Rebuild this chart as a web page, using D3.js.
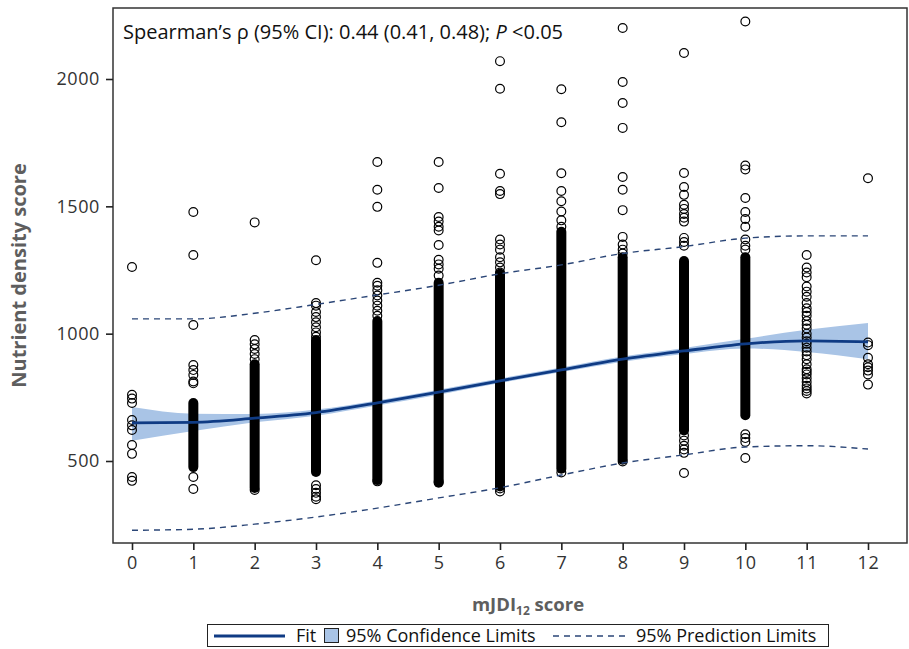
<!DOCTYPE html>
<html>
<head>
<meta charset="utf-8">
<script src="https://cdn.jsdelivr.net/npm/d3@7"></script>
<style>
  body { margin: 0; background: #fff; }
  svg { display: block; font-family: "Open Sans", "Noto Sans", sans-serif; }
</style>
</head>
<body>
<svg id="chart" width="909" height="649"></svg>
<script>
(function() {

  // mJDI12 score categories
  const scores = [0, 1, 2, 3, 4, 5, 6, 7, 8, 9, 10, 11, 12]

  // individual (visible) observations per score
  const points = [
    [1262, 760, 745, 728, 661, 640, 622, 563, 528, 437, 422],
    [1478, 1309, 1034, 877, 857, 838, 812, 805, 437, 390],
    [1437, 975, 958, 940, 920, 900, 386],
    [1288, 1120, 1110, 1085, 1065, 1045, 1025, 1005, 988, 405, 390, 375, 360, 350],
    [1674, 1565, 1498, 1278, 1200, 1188, 1170, 1150, 1130, 1110, 1090, 1070, 420],
    [1674, 1572, 1458, 1440, 1420, 1405, 1348, 1290, 1272, 1255, 1228, 418],
    [2070, 1962, 1628, 1560, 1548, 1370, 1350, 1330, 1300, 1280, 1260, 1240, 392, 380],
    [1960, 1830, 1630, 1560, 1520, 1480, 1445, 1420, 455],
    [2200, 1988, 1906, 1808, 1615, 1565, 1485, 1380, 1350, 1330, 1315, 498],
    [2102, 1631, 1576, 1545, 1506, 1490, 1470, 1455, 1440, 1376, 1360, 1345, 600, 580, 560, 545, 532, 453],
    [2226, 1660, 1645, 1533, 1478, 1450, 1420, 1370, 1345, 1330, 605, 590, 575, 512],
    [1309, 1260, 1240, 1222, 1185, 1165, 1145, 1120, 1100, 1085, 1070, 1050, 1035, 1020, 1000,
     985, 970, 960, 945, 930, 915, 900, 880, 860, 850, 840, 825, 810, 795, 785, 775, 765],
    [1610, 965, 955, 905, 880, 868, 855, 840, 800]
  ]

  // ranges where the circles overlap into a solid column [low, high]
  const denseRanges = [
    null,
    [476, 728],
    [394, 880],
    [457, 975],
    [425, 1050],
    [415, 1200],
    [400, 1235],
    [470, 1400],
    [505, 1300],
    [620, 1285],
    [680, 1300],
    null,
    null
  ]

  const fit = [650, 652, 668, 690, 728, 770, 815, 858, 900, 932, 960, 972, 968]
  const clLower = [580, 618, 652, 678, 718, 760, 806, 849, 890, 920, 942, 928, 900]
  const clUpper = [712, 686, 685, 702, 738, 780, 824, 867, 910, 944, 980, 1015, 1042]
  const plLower = [228, 232, 252, 280, 315, 355, 395, 445, 492, 524, 555, 560, 547]
  const plUpper = [1058, 1058, 1080, 1115, 1152, 1190, 1235, 1270, 1315, 1342, 1375, 1384, 1384]

  const yTicks = [500, 1000, 1500, 2000]

  const
    frameLeft = 113,
    frameTop = 8,
    frameRight = 907,
    frameBottom = 543

  const
    navy = '#0f3b84',
    bandFill = '#a9c4e6',
    dashColor = '#2b4677',
    textColor = '#333333',
    titleColor = '#5e5e5e'

  const svg = d3.select('#chart')

  const x = d3.scaleLinear().domain([0, 12]).range([132, 868])
  const y = d3.scaleLinear().domain([500, 2000]).range([461, 79])

  // CI band
  const band = d3.area()
    .x(function(d, i) { return x(scores[i]) })
    .y0(function(d, i) { return y(clLower[i]) })
    .y1(function(d, i) { return y(clUpper[i]) })
    .curve(d3.curveMonotoneX)

  svg.append('path')
    .datum(scores)
    .attr('d', band)
    .attr('fill', bandFill)

  // dense columns
  svg.append('g')
    .selectAll('line')
    .data(scores.filter(function(s) { return denseRanges[s] }))
    .enter()
    .append('line')
    .attr('x1', function(s) { return x(s) })
    .attr('x2', function(s) { return x(s) })
    .attr('y1', function(s) { return y(denseRanges[s][0]) })
    .attr('y2', function(s) { return y(denseRanges[s][1]) })
    .attr('stroke', '#000')
    .attr('stroke-width', 10)
    .attr('stroke-linecap', 'round')

  // individual circles
  const flat = []
  scores.forEach(function(s) {
    points[s].forEach(function(v) { flat.push({ s: s, v: v }) })
  })

  svg.append('g')
    .selectAll('circle')
    .data(flat)
    .enter()
    .append('circle')
    .attr('cx', function(d) { return x(d.s) })
    .attr('cy', function(d) { return y(d.v) })
    .attr('r', 4.4)
    .attr('fill', 'none')
    .attr('stroke', '#000')
    .attr('stroke-width', 1.2)

  // fit line
  const lineOf = function(arr) {
    return d3.line()
      .x(function(d, i) { return x(scores[i]) })
      .y(function(d, i) { return y(arr[i]) })
      .curve(d3.curveMonotoneX)
  }

  svg.append('path')
    .datum(scores)
    .attr('d', lineOf(fit))
    .attr('fill', 'none')
    .attr('stroke', navy)
    .attr('stroke-width', 2.8)

  // prediction limits
  ;[plLower, plUpper].forEach(function(arr) {
    svg.append('path')
      .datum(scores)
      .attr('d', lineOf(arr))
      .attr('fill', 'none')
      .attr('stroke', dashColor)
      .attr('stroke-width', 1.4)
      .attr('stroke-dasharray', '6,5')
  })

  // frame
  svg.append('rect')
    .attr('x', frameLeft)
    .attr('y', frameTop)
    .attr('width', frameRight - frameLeft)
    .attr('height', frameBottom - frameTop)
    .attr('fill', 'none')
    .attr('stroke', '#333')
    .attr('stroke-width', 1.5)

  // y axis
  const yAxis = svg.append('g')
    .attr('transform', 'translate(' + frameLeft + ',0)')
    .call(d3.axisLeft(y).tickValues(yTicks).tickSize(7).tickPadding(6).tickFormat(d3.format('d')))
  yAxis.select('.domain').remove()

  // x axis
  const xAxis = svg.append('g')
    .attr('transform', 'translate(0,' + frameBottom + ')')
    .call(d3.axisBottom(x).tickValues(scores).tickSize(7).tickPadding(6).tickFormat(d3.format('d')))
  xAxis.select('.domain').remove()

  svg.selectAll('.tick line').attr('stroke', '#222').attr('stroke-width', 1.6)
  svg.selectAll('.tick text')
    .attr('fill', textColor)
    .style('font-size', '18px')
    .style('letter-spacing', '0.6px')
    .style('font-family', '"Open Sans", sans-serif')

  // axis titles
  svg.append('text')
    .attr('transform', 'translate(26,' + ((frameTop + frameBottom) / 2) + ') rotate(-90)')
    .attr('text-anchor', 'middle')
    .attr('fill', titleColor)
    .style('font-size', '20px')
    .style('font-weight', 'bold')
    .text('Nutrient density score')

  const xt = svg.append('text')
    .attr('x', (frameLeft + frameRight) / 2 + 18)
    .attr('y', 611)
    .attr('text-anchor', 'middle')
    .attr('fill', titleColor)
    .style('font-size', '18.5px')
    .style('font-weight', 'bold')
  xt.append('tspan').text('mJDI')
  xt.append('tspan').attr('dy', 4).style('font-size', '12px').text('12')
  xt.append('tspan').attr('dy', -4).text(' score')

  // annotation
  const note = svg.append('text')
    .attr('x', 123)
    .attr('y', 39)
    .attr('fill', '#111')
    .style('font-size', '20px')
  note.append('tspan').text('Spearman\u2019s \u03c1 (95% CI): 0.44 (0.41, 0.48); ')
  note.append('tspan').style('font-style', 'italic').text('P')
  note.append('tspan').text(' <0.05')

  // legend
  const lg = svg.append('g')
  lg.append('rect')
    .attr('x', 207.5).attr('y', 624.5)
    .attr('width', 621).attr('height', 22)
    .attr('fill', '#fff').attr('stroke', '#222').attr('stroke-width', 1)

  lg.append('line')
    .attr('x1', 214).attr('x2', 285).attr('y1', 636).attr('y2', 636)
    .attr('stroke', navy).attr('stroke-width', 2.8)
  lg.append('rect')
    .attr('x', 324.5).attr('y', 628.5).attr('width', 14).attr('height', 14)
    .attr('fill', bandFill).attr('stroke', '#222').attr('stroke-width', 1)
  lg.append('line')
    .attr('x1', 553).attr('x2', 626).attr('y1', 636).attr('y2', 636)
    .attr('stroke', dashColor).attr('stroke-width', 1.4).attr('stroke-dasharray', '6,5')

  const legendLabels = [
    { x: 296, t: 'Fit' },
    { x: 346, t: '95% Confidence Limits' },
    { x: 636, t: '95% Prediction Limits' }
  ]
  lg.selectAll('text.lab')
    .data(legendLabels)
    .enter()
    .append('text')
    .attr('class', 'lab')
    .attr('x', function(d) { return d.x })
    .attr('y', 642)
    .attr('fill', '#111')
    .style('font-size', '18px')
    .text(function(d) { return d.t })

})();
</script>
</body>
</html>
